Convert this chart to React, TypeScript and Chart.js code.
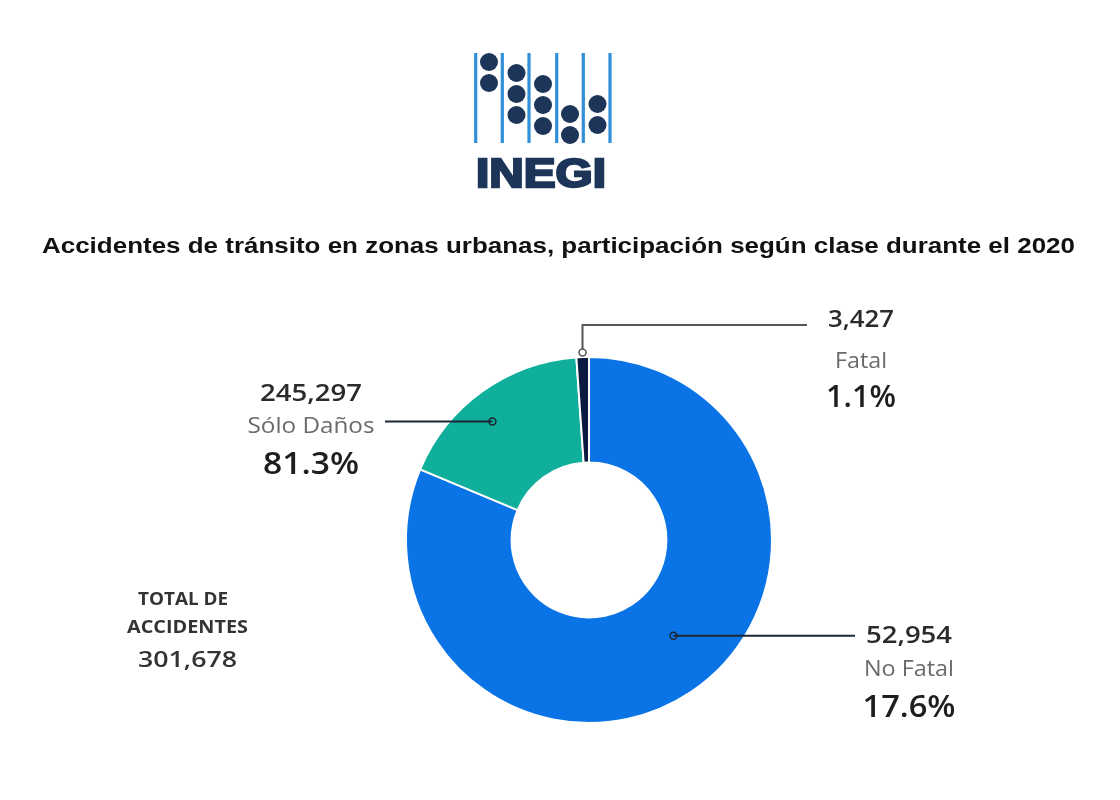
import React, { useEffect, useRef } from "react";
import { Chart, registerables } from "chart.js";

Chart.register(...registerables);

// ---- data (as printed in the source picture) ----
const title =
  "Accidentes de tránsito en zonas urbanas, participación según clase durante el 2020";
const categories = ["No Fatal", "Sólo Daños", "Fatal"];
// slice shares as drawn in the source picture (%), clockwise from 12 o'clock
const drawnShares = [81.3, 17.6, 1.1];
// texts printed next to each slice in the source picture
const labelCounts = ["52,954", "245,297", "3,427"];
const labelPercents = ["17.6%", "81.3%", "1.1%"];
const totalLines = ["TOTAL DE", "ACCIDENTES"];
const totalValue = "301,678";

// ---- styles ----
const sliceColors = ["#0A73E6", "#10AF9B", "#0B1B3F"];

// ---- annotation layout (positions of callouts, not data) ----
type Layout = {
  angleFrac: number;
  radiusFrac: number | null; // null -> just outside the ring
  lineEndX: number;
  elbowY: number | null;
  lineColor: string;
  dotFill: string | null;
  textX: number;
  baselines: number[];
  widths: number[];
};
const labelLayout: Layout[] = [
  {
    angleFrac: 0.4735,
    radiusFrac: 0.477,
    lineEndX: 855,
    elbowY: null,
    lineColor: "#1d2733",
    dotFill: null,
    textX: 909,
    baselines: [643, 676, 717],
    widths: [86, 90, 93],
  },
  {
    angleFrac: 0.444,
    radiusFrac: 0.715,
    lineEndX: 385,
    elbowY: null,
    lineColor: "#1d2733",
    dotFill: null,
    textX: 311,
    baselines: [401, 433, 474],
    widths: [102, 127, 96],
  },
  {
    angleFrac: 0.5,
    radiusFrac: null,
    lineEndX: 807,
    elbowY: 325,
    lineColor: "#555555",
    dotFill: "#ffffff",
    textX: 861,
    baselines: [327, 368, 407],
    widths: [66, 52, 70],
  },
];

function fitText(
  ctx: CanvasRenderingContext2D,
  text: string,
  cx: number,
  baseline: number,
  width: number,
  font: string,
  color: string
) {
  ctx.save();
  ctx.font = font;
  ctx.fillStyle = color;
  ctx.textAlign = "center";
  ctx.textBaseline = "alphabetic";
  const w = ctx.measureText(text).width || 1;
  let s = width / w;
  if (s < 0.7) s = 0.7;
  if (s > 1.4) s = 1.4;
  ctx.translate(cx, baseline);
  ctx.scale(s, 1);
  ctx.fillText(text, 0, 0);
  ctx.restore();
}

const calloutPlugin = {
  id: "callouts",
  afterDatasetsDraw(chart: any) {
    const ctx: CanvasRenderingContext2D = chart.ctx;
    const meta = chart.getDatasetMeta(0);
    meta.data.forEach((arc: any, i: number) => {
      const p = arc.getProps(
        ["x", "y", "startAngle", "endAngle", "innerRadius", "outerRadius"],
        true
      );
      const L = labelLayout[i];
      const a = p.startAngle + (p.endAngle - p.startAngle) * L.angleFrac;
      const dotR = 3.5;
      const r =
        L.radiusFrac === null
          ? p.outerRadius + dotR + 1
          : p.innerRadius + (p.outerRadius - p.innerRadius) * L.radiusFrac;
      const ax = p.x + r * Math.cos(a);
      const ay = p.y + r * Math.sin(a);
      ctx.save();
      ctx.strokeStyle = L.lineColor;
      ctx.lineWidth = 2;
      ctx.beginPath();
      if (L.elbowY !== null) {
        ctx.moveTo(ax, ay - dotR);
        ctx.lineTo(ax, L.elbowY);
        ctx.lineTo(L.lineEndX, L.elbowY);
      } else {
        ctx.moveTo(ax, ay);
        ctx.lineTo(L.lineEndX, ay);
      }
      ctx.stroke();
      ctx.beginPath();
      ctx.arc(ax, ay, dotR, 0, Math.PI * 2);
      if (L.dotFill) {
        ctx.fillStyle = L.dotFill;
        ctx.fill();
      }
      ctx.lineWidth = 1.5;
      ctx.stroke();
      ctx.restore();

      fitText(ctx, labelCounts[i], L.textX, L.baselines[0], L.widths[0],
        "600 24px 'Open Sans'", "#2b2b2b");
      fitText(ctx, categories[i], L.textX, L.baselines[1], L.widths[1],
        "400 21px 'Open Sans'", "#6a6a6a");
      fitText(ctx, labelPercents[i], L.textX, L.baselines[2], L.widths[2],
        "600 30px 'Open Sans'", "#1e1e1e");
    });

    // total block
    fitText(ctx, totalLines[0], 183, 605, 90, "700 17px 'Open Sans'", "#333333");
    fitText(ctx, totalLines[1], 187.5, 633, 121, "700 17px 'Open Sans'", "#333333");
    fitText(ctx, totalValue, 187.5, 667, 99, "600 21px 'Open Sans'", "#333333");
  },
};

function Logo() {
  const lineXs = [475.7, 502.3, 529, 556.7, 583.3, 610];
  const dots: [number, number][] = [
    [489, 62], [489, 83],
    [516.5, 73], [516.5, 94], [516.5, 115],
    [543, 84], [543, 105], [543, 126],
    [570, 114], [570, 135],
    [597.5, 104], [597.5, 125],
  ];
  return (
    <g>
      {lineXs.map((x, i) => (
        <rect key={"l" + i} x={x - 1.6} y={53} width={3.2} height={90} fill="#2F8FD8" />
      ))}
      {dots.map(([x, y], i) => (
        <circle key={"d" + i} cx={x} cy={y} r={9} fill="#1C3558" />
      ))}
      <text
        x={476}
        y={187}
        textLength={130}
        lengthAdjust="spacingAndGlyphs"
        fontFamily="'Liberation Sans', Arial, sans-serif"
        fontWeight="bold"
        fontSize={41}
        fill="#1C3558"
        stroke="#1C3558"
        strokeWidth={2.4}
        strokeLinejoin="miter"
      >
        INEGI
      </text>
    </g>
  );
}

export default function App() {
  const canvasRef = useRef<HTMLCanvasElement | null>(null);

  useEffect(() => {
    const canvas = canvasRef.current;
    if (!canvas) return;
    const chart = new Chart(canvas, {
      type: "doughnut",
      data: {
        labels: categories,
        datasets: [
          {
            data: drawnShares,
            backgroundColor: sliceColors,
            borderColor: "#ffffff",
            borderWidth: 2,
            radius: 183,
            cutout: 77,
          } as any,
        ],
      },
      options: {
        animation: false,
        responsive: false,
        devicePixelRatio: 1,
        layout: { padding: { left: 404, right: 346, top: 357, bottom: 77 } },
        plugins: {
          legend: { display: false },
          tooltip: { enabled: false },
          title: { display: false },
        },
      },
      plugins: [calloutPlugin],
    });
    return () => chart.destroy();
  }, []);

  return (
    <div
      style={{
        position: "absolute",
        left: 0,
        top: 0,
        width: 1120,
        height: 800,
        background: "#ffffff",
        overflow: "hidden",
      }}
    >
      <canvas
        ref={canvasRef}
        width={1120}
        height={800}
        style={{ position: "absolute", left: 0, top: 0, width: 1120, height: 800 }}
      />
      <svg
        width={1120}
        height={800}
        style={{ position: "absolute", left: 0, top: 0, pointerEvents: "none" }}
      >
        <Logo />
        <text
          x={42}
          y={252.5}
          textLength={1033}
          lengthAdjust="spacingAndGlyphs"
          fontFamily="'Liberation Sans', Arial, sans-serif"
          fontWeight="bold"
          fontSize={21.5}
          fill="#111111"
        >
          {title}
        </text>
      </svg>
    </div>
  );
}
